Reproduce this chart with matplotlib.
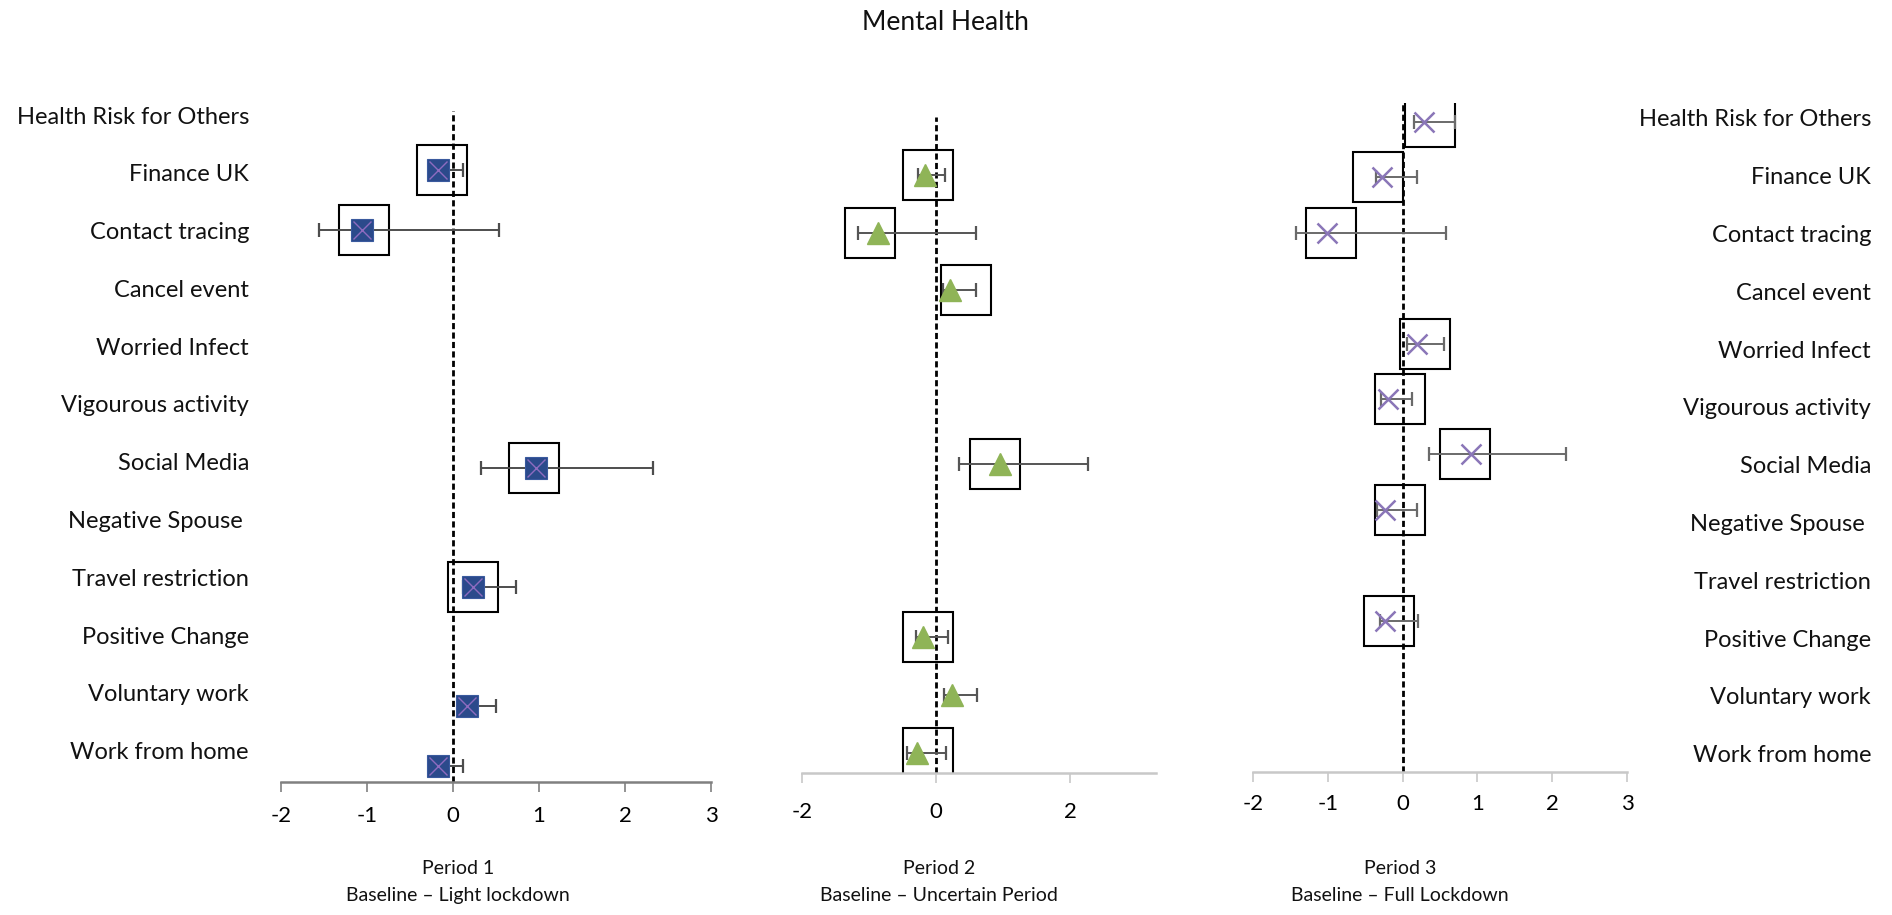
import numpy as np
import matplotlib
matplotlib.use("Agg")
import matplotlib.pyplot as plt

plt.rcParams['font.family'] = ['Lato', 'DejaVu Sans']
plt.rcParams['axes.unicode_minus'] = False

nan = np.nan
categories = ["Health Risk for Others", "Finance UK", "Contact tracing", "Cancel event",
              "Worried Infect", "Vigourous activity", "Social Media", "Negative Spouse ",
              "Travel restriction", "Positive Change", "Voluntary work", "Work from home"]

# Period 1 (Baseline - Light lockdown)
p1_est = [nan, -0.18, -1.06, nan, nan, nan, 0.97, nan, 0.23, nan, 0.16, -0.17]
p1_lo  = [nan, -0.25, -1.56, nan, nan, nan, 0.33, nan, 0.12, nan, 0.06, -0.25]
p1_hi  = [nan, 0.12, 0.53, nan, nan, nan, 2.32, nan, 0.73, nan, 0.50, 0.12]
p1_box = [nan, -0.13, -1.04, nan, nan, nan, 0.945, nan, 0.235, nan, nan, nan]

# Period 2 (Baseline - Uncertain Period)
p2_est = [nan, -0.17, -0.87, 0.21, nan, nan, 0.96, nan, nan, -0.20, 0.23, -0.29]
p2_lo  = [nan, -0.27, -1.16, 0.11, nan, nan, 0.34, nan, nan, -0.30, 0.12, -0.44]
p2_hi  = [nan, 0.13, 0.59, 0.59, nan, nan, 2.26, nan, nan, 0.18, 0.61, 0.15]
p2_box = [nan, -0.115, -0.99, 0.44, nan, nan, 0.88, nan, nan, -0.115, nan, -0.115]

# Period 3 (Baseline - Full Lockdown)
p3_est = [0.28, -0.27, -1.01, nan, 0.19, -0.19, 0.92, -0.23, nan, -0.23, nan, nan]
p3_lo  = [0.15, -0.36, -1.43, nan, 0.06, -0.29, 0.35, -0.34, nan, -0.30, nan, nan]
p3_hi  = [0.70, 0.19, 0.58, nan, 0.56, 0.13, 2.19, 0.19, nan, 0.20, nan, nan]
p3_box = [0.36, -0.33, -0.96, nan, 0.30, -0.03, 0.84, -0.03, nan, -0.18, nan, nan]

p1_ticks = [-2, -1, 0, 1, 2, 3]
p2_ticks = [-2, 0, 2]
p3_ticks = [-2, -1, 0, 1, 2, 3]

title = "Mental Health"
period_titles = ["Period 1\nBaseline \u2013 Light lockdown",
                 "Period 2\nBaseline \u2013 Uncertain Period",
                 "Period 3\nBaseline \u2013 Full Lockdown"]

W, H = 1892, 915
fig = plt.figure(figsize=(W / 100, H / 100), dpi=100)


def add_ax(left, right, top, bottom, **kw):
    return fig.add_axes([left / W, 1 - bottom / H, (right - left) / W, (bottom - top) / H], **kw)


rows = np.arange(len(categories))


def draw_panel(ax, est, lo, hi, box, xlim, ylim, ticks, spine_col, marker_fn, ecol, tick_pad):
    est = np.array(est, float); lo = np.array(lo, float); hi = np.array(hi, float)
    box = np.array(box, float)
    ax.set_xlim(*xlim)
    ax.set_ylim(*ylim)
    m = ~np.isnan(box)
    ax.plot(box[m], rows[m], 's', ms=36, mfc='none', mec='black', mew=1.5, ls='none', zorder=1)
    ax.axvline(0, color='black', ls=(0, (2.2, 1.2)), lw=2.0, zorder=2)
    m = ~np.isnan(est)
    ax.errorbar(est[m], rows[m], xerr=[est[m] - lo[m], hi[m] - est[m]], fmt='none',
                ecolor=ecol, elinewidth=1.4, capsize=5, capthick=1.6, zorder=3)
    marker_fn(ax, est[m], rows[m])
    for s in ['left', 'right', 'top']:
        ax.spines[s].set_visible(False)
    ax.spines['bottom'].set_color(spine_col)
    ax.spines['bottom'].set_linewidth(1.8)
    ax.set_yticks([])
    ax.set_xticks(ticks)
    ax.set_xticklabels([str(t) for t in ticks])
    ax.tick_params(axis='x', direction='out', length=7, width=1.2, color=spine_col,
                   labelsize=16, pad=tick_pad)
    ax.patch.set_visible(False)


def m1(ax, x, y):
    ax.plot(x, y, 's', ms=15.5, color='#2B4A8B', mec='#3A5A9E', mew=0.8, ls='none', zorder=4)
    ax.plot(x, y, 'x', ms=13, color='#8E6BC0', mew=1.0, ls='none', zorder=5)


def m2(ax, x, y):
    ax.plot(x, y, '^', ms=16, color='#8FB457', mec='#8FB457', ls='none', zorder=4)


def m3(ax, x, y):
    ax.plot(x, y, 'x', ms=15, color='#8A76B8', mew=1.8, ls='none', zorder=4)


ax1 = add_ax(281, 711, 110.5, 782)
draw_panel(ax1, p1_est, p1_lo, p1_hi, p1_box, (-2, 3), (11.27, 0), p1_ticks, '#808080', m1, '#4d4d4d', 10)
ax2 = add_ax(802, 1156, 117, 773)
draw_panel(ax2, p2_est, p2_lo, p2_hi, p2_box, (-2, 3.28), (11.35, 0), p2_ticks, '#c8c8c8', m2, '#555555', 14)
ax3 = add_ax(1253, 1627, 103, 772)
draw_panel(ax3, p3_est, p3_lo, p3_hi, p3_box, (-2, 3), (11.73, -0.34), p3_ticks, '#c8c8c8', m3, '#6a6a6a', 9)

# category labels
lab = add_ax(0, W, 117, 773, frameon=False)
lab.set_xlim(0, 1)
lab.set_ylim(11.35, 0)
lab.set_xticks([]); lab.set_yticks([])
lab.patch.set_visible(False)
for i, c in enumerate(categories):
    lab.text(249 / W, i, c, ha='right', va='center', fontsize=17, color='#111111')
    lab.text(1871 / W, i + 0.05, c, ha='right', va='center', fontsize=17, color='#111111')

fig.text(945 / W, 1 - 22 / H, title, ha='center', va='center', fontsize=19, color='#111111')
for xc, t in zip([458, 939, 1400], period_titles):
    fig.text(xc / W, 1 - 882 / H, t, ha='center', va='center', fontsize=14,
             linespacing=1.7, color='#111111')

fig.savefig("out.png", dpi=100)
